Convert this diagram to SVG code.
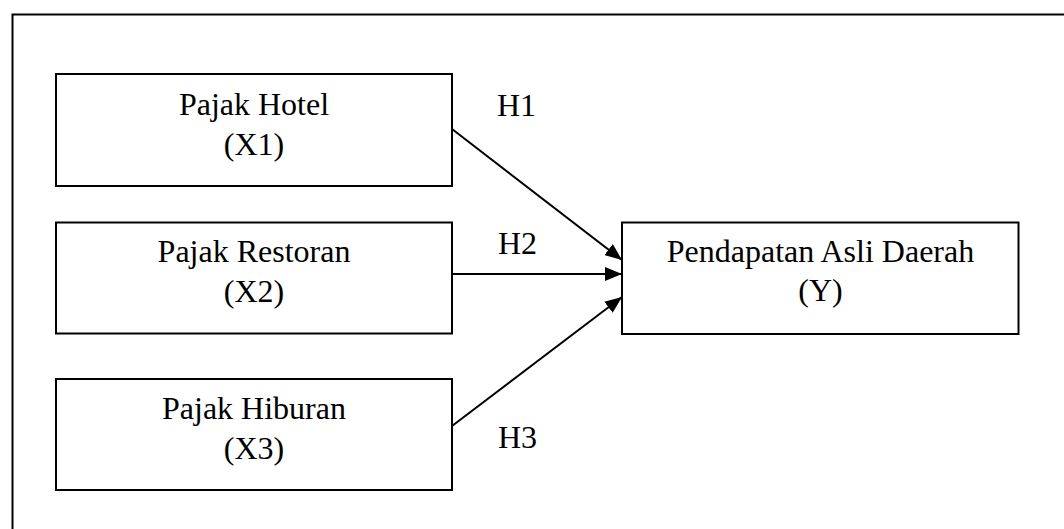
<svg xmlns="http://www.w3.org/2000/svg" width="1064" height="529" viewBox="0 0 1064 529">
<style>
.box{fill:#fff;stroke:#000;stroke-width:2}
.t{font-family:"Liberation Serif","Times New Roman",serif;font-size:32px;fill:#000}
.c{text-anchor:middle}
.ln{stroke:#000;stroke-width:2;fill:none;marker-end:url(#ah)}
</style>
<defs>
<marker id="ah" markerUnits="userSpaceOnUse" markerWidth="18" markerHeight="14" refX="17" refY="7" orient="auto">
<path d="M0,0 L17,7 L0,14 Z" fill="#000"/>
</marker>
</defs>
<rect x="0" y="0" width="1064" height="529" fill="#fff"/>
<path d="M12.5,529 V14.5 H1064" fill="none" stroke="#000" stroke-width="2"/>
<g id="x1">
<rect class="box" x="56" y="74" width="396" height="112"/>
<text class="t c" x="254" y="115">Pajak Hotel</text>
<text class="t c" x="254" y="155">(X1)</text>
</g>
<g id="x2">
<rect class="box" x="56" y="222.5" width="396" height="111"/>
<text class="t c" x="254" y="262">Pajak Restoran</text>
<text class="t c" x="254" y="302">(X2)</text>
</g>
<g id="x3">
<rect class="box" x="56" y="379" width="396" height="111"/>
<text class="t c" x="254" y="419">Pajak Hiburan</text>
<text class="t c" x="254" y="459">(X3)</text>
</g>
<g id="y">
<rect class="box" x="622" y="222.5" width="396.5" height="111.5"/>
<text class="t c" x="820.5" y="262">Pendapatan Asli Daerah</text>
<text class="t c" x="820.5" y="301">(Y)</text>
</g>
<g id="connectors">
<line class="ln" x1="452" y1="129" x2="622" y2="260"/>
<line class="ln" x1="452" y1="274" x2="622" y2="274"/>
<line class="ln" x1="452" y1="426" x2="622" y2="297"/>
<text class="t" x="497" y="116">H1</text>
<text class="t" x="498" y="254">H2</text>
<text class="t" x="498" y="448">H3</text>
</g>
</svg>
